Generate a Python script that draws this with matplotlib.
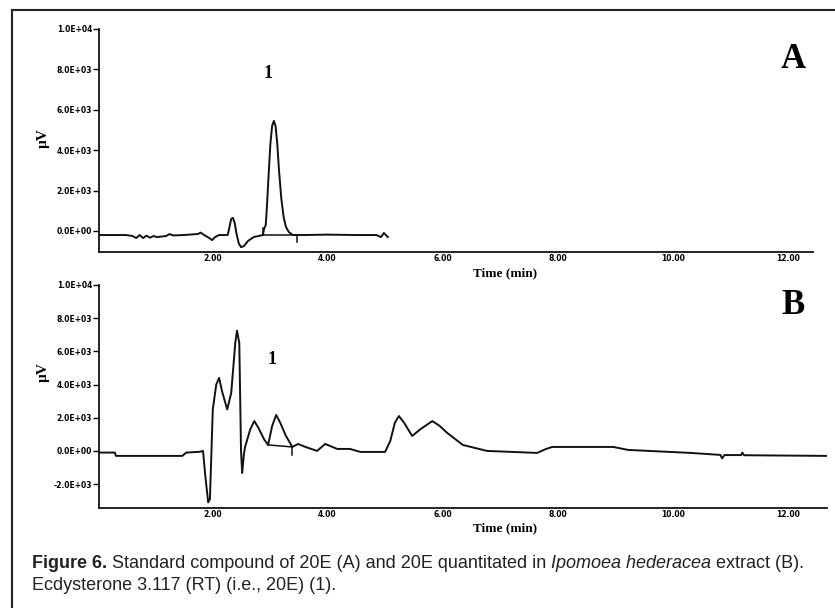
import matplotlib
matplotlib.use("Agg")
import matplotlib.pyplot as plt
from matplotlib.lines import Line2D

# --- data (time in min, signal in uV) ---

# A: 20E standard
a_time = [0.03, 0.50, 0.62, 0.68, 0.74, 0.80, 0.86, 0.92, 0.98, 1.04, 1.20,
          1.26, 1.32, 1.50, 1.75, 1.80, 1.86, 1.95, 2.00, 2.05, 2.12, 2.27,
          2.30, 2.33, 2.36, 2.39, 2.42, 2.46, 2.50, 2.55, 2.62, 2.72, 2.85,
          2.88, 2.90, 2.93, 2.95, 2.98, 3.01, 3.04, 3.07, 3.10, 3.13, 3.16,
          3.20, 3.24, 3.28, 3.33, 3.40, 3.60, 4.00, 4.50, 4.85, 4.93, 4.98,
          5.05]
a_signal = [-200, -200, -250, -350, -200, -350, -230, -330, -250, -300, -250,
            -150, -220, -200, -150, -80, -200, -350, -450, -300, -200, -200,
            200, 600, 650, 400, -100, -600, -800, -750, -500, -300, -220,
            -200, 100, 300, 1200, 2800, 4300, 5200, 5450, 5200, 4300, 3000,
            1600, 700, 200, -50, -200, -200, -180, -200, -200, -300, -100,
            -300]
# integration baseline under peak 1
a_base_time = [2.88, 3.47]
a_base_signal = [-200, -200]

# B: Ipomoea hederacea extract
b_time = [0.03, 0.31, 0.33, 1.48, 1.55, 1.79, 1.84, 1.88, 1.93, 1.96, 2.01,
          2.07, 2.12, 2.17, 2.26, 2.33, 2.40, 2.43, 2.47, 2.50, 2.52, 2.55,
          2.57, 2.66, 2.73, 2.80, 2.90, 2.97, 3.04, 3.11, 3.18, 3.28, 3.39,
          3.49, 3.61, 3.82, 3.96, 4.17, 4.39, 4.57, 5.00, 5.09, 5.17, 5.24,
          5.33, 5.47, 5.61, 5.82, 5.95, 6.08, 6.35, 6.77, 7.64, 7.78, 7.90,
          8.96, 9.22, 10.30, 10.82, 10.85, 10.89, 11.18, 11.20, 11.23, 12.67]
b_signal = [-100, -100, -300, -300, -100, -50, 0, -1500, -3100, -2900, 2500,
            4000, 4400, 3600, 2500, 3500, 6500, 7250, 6500, 0, -1330, -200,
            240, 1300, 1800, 1400, 700, 360, 1500, 2170, 1700, 900, 240,
            420, 250, 0, 420, 120, 120, -60, -60, 600, 1700, 2100,
            1700, 900, 1300, 1800, 1500, 1080, 360, 0, -120, 100, 240,
            240, 60, -120, -240, -450, -250, -250, -100, -260, -300]
b_base_time = [2.97, 3.39]
b_base_signal = [360, 240]

x_ticks = [2, 4, 6, 8, 10, 12]
x_labels = ["2.00", "4.00", "6.00", "8.00", "10.00", "12.00"]
a_yticks = [0, 2000, 4000, 6000, 8000, 10000]
b_yticks = [-2000, 0, 2000, 4000, 6000, 8000, 10000]
y_label_map = {-2000: "-2.0E+03", 0: "0.0E+00", 2000: "2.0E+03",
               4000: "4.0E+03", 6000: "6.0E+03", 8000: "8.0E+03",
               10000: "1.0E+04"}

W, H = 835, 608
fig = plt.figure(figsize=(W / 100, H / 100), dpi=100)


def box(l, t, r, b):
    return [l / W, 1 - b / H, (r - l) / W, (b - t) / H]


def fx(x):
    return x / W


def fy(y):
    return 1 - y / H


def setup(ax, yticks, ylim, xmax):
    ax.set_xlim(0.035, xmax)
    ax.set_ylim(*ylim)
    for s in ["top", "right"]:
        ax.spines[s].set_visible(False)
    for s in ["left", "bottom"]:
        ax.spines[s].set_linewidth(1.3)
        ax.spines[s].set_color("#111111")
    ax.spines["left"].set_bounds(ylim[0], 10000)
    ax.set_yticks(yticks)
    ax.set_yticklabels([y_label_map[v] for v in yticks])
    ax.set_xticks(x_ticks)
    ax.set_xticklabels(x_labels)
    ax.tick_params(axis="y", length=4, width=1, pad=1, labelsize=5.5)
    ax.tick_params(axis="x", length=0, pad=1.5, labelsize=5.5)
    for lab in ax.get_xticklabels() + ax.get_yticklabels():
        lab.set_fontweight("bold")


lw = 1.4
ax1 = fig.add_axes(box(99, 29, 813, 252))
ax1.plot(a_time, a_signal, color="#111111", lw=lw)
ax1.plot(a_base_time, a_base_signal, color="#111111", lw=1.1)
ax1.plot([2.88, 2.88], [-200, 150], color="#111111", lw=1.1)
ax1.plot([3.47, 3.47], [-200, -550], color="#111111", lw=1.1)
setup(ax1, a_yticks, (-1040, 10000), 12.43)

ax2 = fig.add_axes(box(99, 285, 827, 508))
ax2.plot(b_time, b_signal, color="#111111", lw=lw)
ax2.plot(b_base_time, b_base_signal, color="#111111", lw=1.1)
ax2.plot([3.39, 3.39], [240, -250], color="#111111", lw=1.1)
setup(ax2, b_yticks, (-3440, 10000), 12.67)

serif = "Liberation Serif"
for yc in [138, 372]:
    fig.text(fx(43), fy(yc), "µV", rotation=90, ha="center", va="center",
             family=serif, fontweight="bold", fontsize=11)
for yc in [273, 528]:
    fig.text(fx(505), fy(yc), "Time (min)", ha="center", va="center",
             family=serif, fontweight="bold", fontsize=9.5)
fig.text(fx(793), fy(60), "A", ha="center", va="center", family=serif,
         fontweight="bold", fontsize=25)
fig.text(fx(793), fy(305), "B", ha="center", va="center", family=serif,
         fontweight="bold", fontsize=25)
fig.text(fx(268), fy(74), "1", ha="center", va="center", family=serif,
         fontweight="bold", fontsize=13)
fig.text(fx(272), fy(360), "1", ha="center", va="center", family=serif,
         fontweight="bold", fontsize=13)

# outer frame (top and left edges visible in the page crop)
fig.add_artist(Line2D([fx(12), 1.0], [fy(10), fy(10)], color="#222222", lw=1.5))
fig.add_artist(Line2D([fx(12), fx(12)], [fy(10), 0.0], color="#222222", lw=1.5))

# caption, built from styled runs
cap_size = 13
caption = [
    [("Figure 6.", "bold", "normal"),
     (" Standard compound of 20E (A) and 20E quantitated in ", "normal", "normal"),
     ("Ipomoea hederacea", "normal", "italic"),
     (" extract (B).", "normal", "normal")],
    [("Ecdysterone 3.117 (RT) (i.e., 20E) (1).", "normal", "normal")],
]
renderer = fig.canvas.get_renderer()
for line, base in zip(caption, [568, 590]):
    x = 32
    for txt, weight, style in line:
        t = fig.text(fx(x), fy(base), txt, va="baseline", ha="left",
                     family="Liberation Sans", fontweight=weight,
                     fontstyle=style, fontsize=cap_size, color="#222222")
        x += t.get_window_extent(renderer).width

fig.savefig("out.png", dpi=100)
